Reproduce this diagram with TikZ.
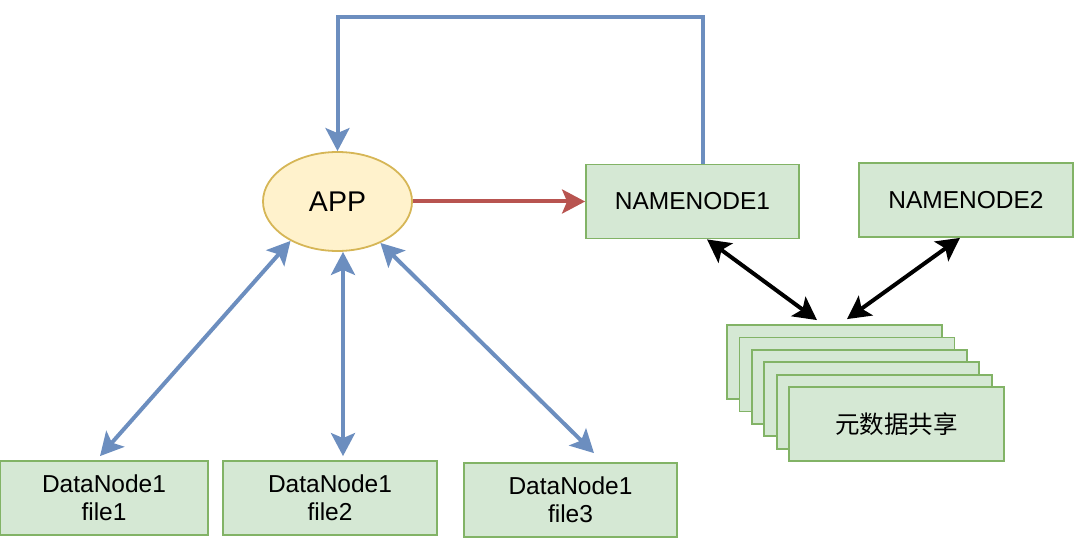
\documentclass[tikz,border=0pt]{standalone}
\usepackage{fontspec}
\setmainfont{Liberation Sans}
\newfontfamily\cjkfont{Noto Sans CJK SC}
\usepackage{tikz}
\usetikzlibrary{shapes.geometric, arrows.meta}

\definecolor{boxfill}{HTML}{D5E8D4}
\definecolor{boxline}{HTML}{82B366}
\definecolor{appfill}{HTML}{FFF2CC}
\definecolor{appline}{HTML}{D6B656}
\definecolor{linkblue}{HTML}{6C8EBF}
\definecolor{linkred}{HTML}{B85450}

\begin{document}
\begin{tikzpicture}[x=1pt, y=-1pt,
    >={Stealth[length=23pt, width=24pt, inset=5pt]},
    every node/.style={font=\fontsize{24.5}{28}\selectfont, inner sep=0pt},
    greenbox/.style={draw=boxline, fill=boxfill, line width=1.8pt, minimum height=74pt, align=center},
    appnode/.style={ellipse, draw=appline, fill=appfill, line width=1.8pt, minimum width=149pt, minimum height=99pt, font=\fontsize{28.5}{32}\selectfont},
    bluelink/.style={draw=linkblue, line width=4pt},
    redlink/.style={draw=linkred, line width=4pt},
    blacklink/.style={draw=black, line width=4pt}]
    \useasboundingbox (0,0) rectangle (1081,540);

    \node[appnode] (app) at (337.5,201.5) {APP};
    \node[greenbox, minimum width=213pt] (nn1) at (692.5,201.5) {NAMENODE1};
    \node[greenbox, minimum width=214pt] (nn2) at (966,200) {NAMENODE2};

    \node[greenbox, minimum width=208pt] (dn1) at (104,498) {DataNode1\\file1};
    \node[greenbox, minimum width=214pt] (dn2) at (330,498) {DataNode1\\file2};
    \node[greenbox, minimum width=213pt] (dn3) at (570.5,500) {DataNode1\\file3};

    \foreach \i in {1,...,5} {
        \node[greenbox, minimum width=215pt] (meta\i) at ({834.5+12.4*(\i-1)},{362+12.4*(\i-1)}) {};
    }
    \node[greenbox, minimum width=215pt] (meta6) at (896.5,424) {\cjkfont 元数据共享};

    \coordinate (looptop) at (520,17);
    \draw[bluelink, ->] ([xshift=10.5pt]nn1.north) |- (looptop) -| (app.north);
    \draw[redlink, ->] (app.east) -- (nn1.west);

    \draw[bluelink, <->] (app.220) -- ([xshift=-4pt, yshift=4pt]dn1.north);
    \draw[bluelink, <->] ([xshift=5.5pt]app.south) -- ([xshift=13pt, yshift=4pt]dn2.north);
    \draw[bluelink, <->] (app.-44) -- ([xshift=23.5pt, yshift=9pt]dn3.north);

    \draw[blacklink, <->] ([xshift=14.5pt]nn1.south) -- ([xshift=-17.5pt, yshift=4pt]meta1.north);
    \draw[blacklink, <->] ([xshift=-6pt]nn2.south) -- ([xshift=12.5pt, yshift=5pt]meta1.north);
\end{tikzpicture}
\end{document}
